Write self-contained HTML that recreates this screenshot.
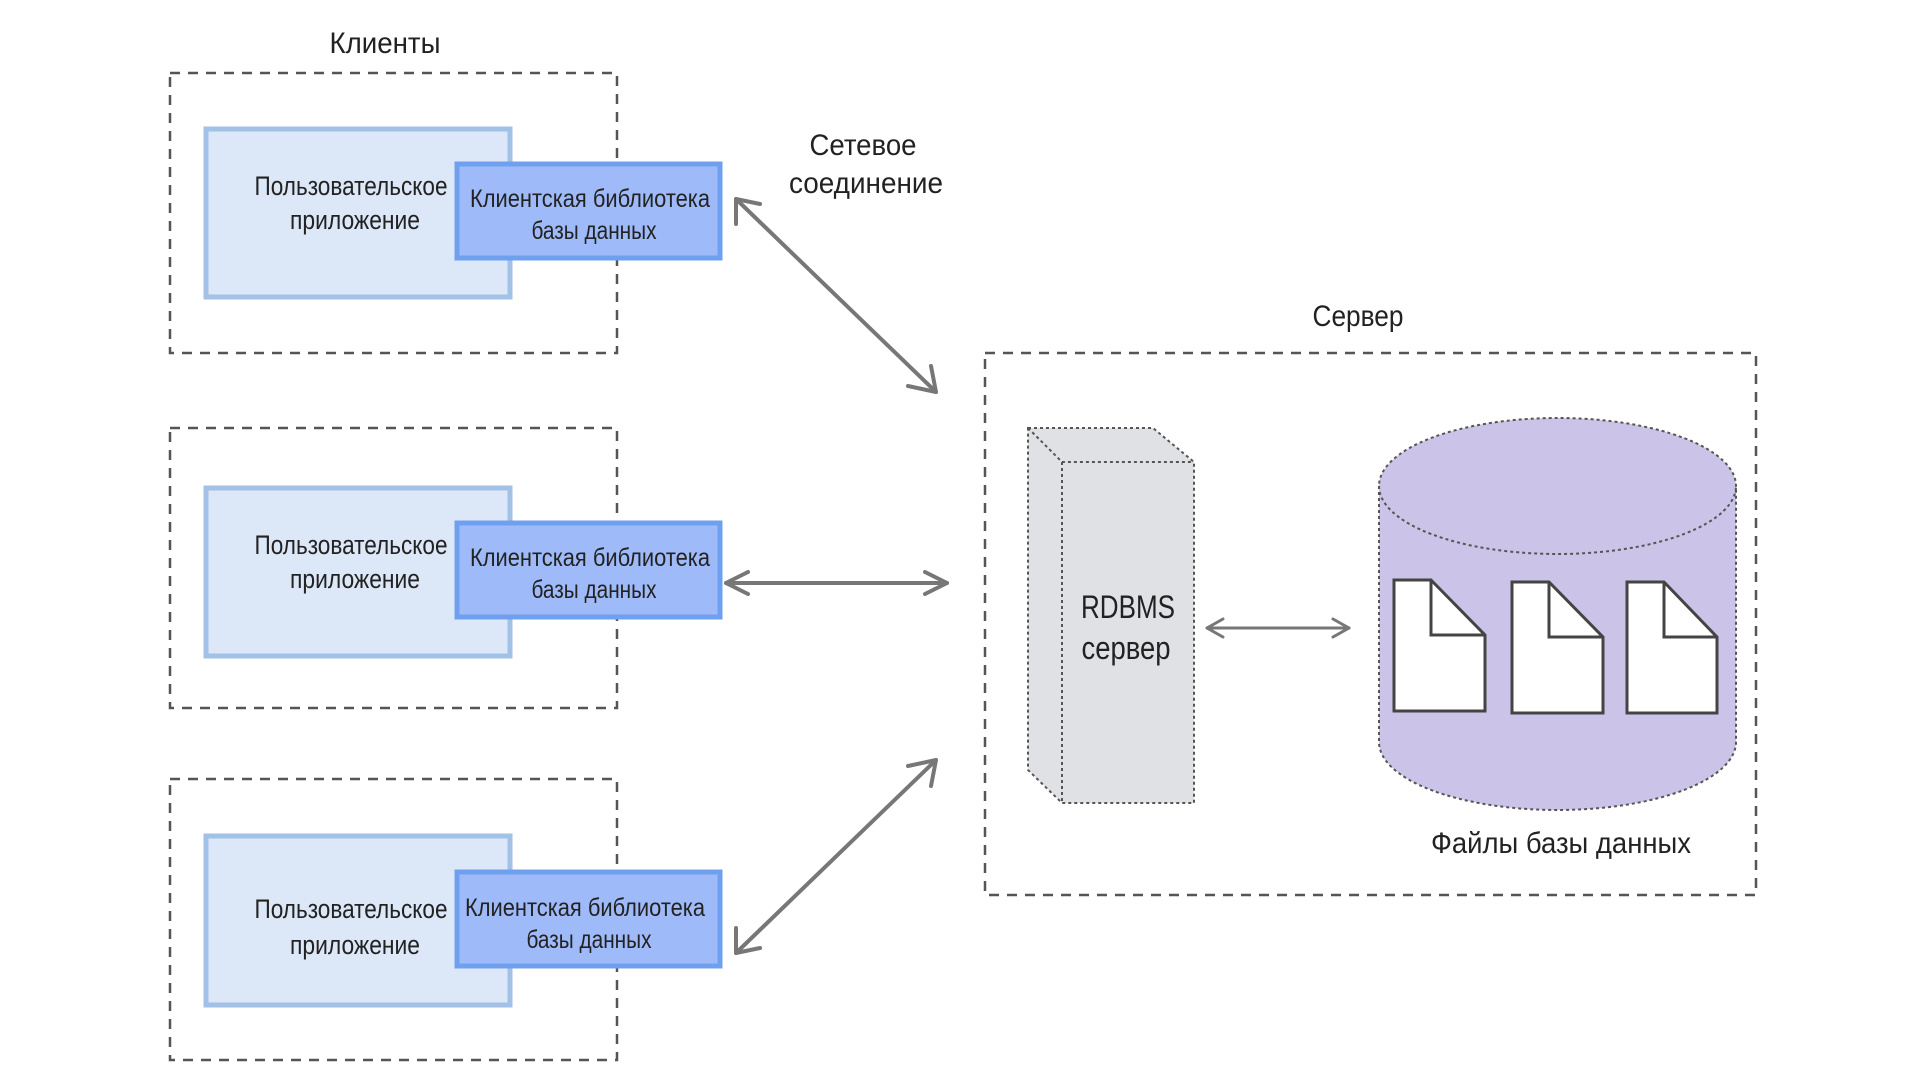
<!DOCTYPE html>
<html><head><meta charset="utf-8"><style>
html,body{margin:0;padding:0;background:#fff;}
svg{display:block}
text{font-family:"Liberation Sans",sans-serif;fill:#222;text-anchor:middle}
</style></head><body>
<svg width="1920" height="1080" viewBox="0 0 1920 1080" xmlns="http://www.w3.org/2000/svg">
<g fill="none" stroke="#555" stroke-width="2.5" stroke-dasharray="10,8">
<rect x="170" y="73" width="447" height="280"/>
<rect x="170" y="428" width="447" height="280"/>
<rect x="170" y="779" width="447" height="281"/>
</g>
<text x="385" y="53" font-size="30" textLength="111" lengthAdjust="spacingAndGlyphs">Клиенты</text>
<text x="863" y="155" font-size="30" textLength="107" lengthAdjust="spacingAndGlyphs">Сетевое</text>
<text x="866" y="193" font-size="30" textLength="154" lengthAdjust="spacingAndGlyphs">соединение</text>

<g id="c">
<rect x="206" y="129" width="304" height="168" fill="#dce8f8" stroke="#a2c1e6" stroke-width="5"/>
<rect x="457" y="164" width="263" height="94" fill="#9fbaf8" stroke="#6fa0f0" stroke-width="5"/>
<text x="351" y="195" font-size="27" textLength="193" lengthAdjust="spacingAndGlyphs">Пользовательское</text>
<text x="355" y="229" font-size="27" textLength="130" lengthAdjust="spacingAndGlyphs">приложение</text>
<text x="590" y="207" font-size="25" textLength="240" lengthAdjust="spacingAndGlyphs">Клиентская библиотека</text>
<text x="594" y="239" font-size="25" textLength="125" lengthAdjust="spacingAndGlyphs">базы данных</text>
</g>
<use href="#c" y="359"/>
<rect x="206" y="836" width="304" height="169" fill="#dce8f8" stroke="#a2c1e6" stroke-width="5"/>
<rect x="457" y="872" width="263" height="94" fill="#9fbaf8" stroke="#6fa0f0" stroke-width="5"/>
<text x="351" y="918" font-size="27" textLength="193" lengthAdjust="spacingAndGlyphs">Пользовательское</text>
<text x="355" y="954" font-size="27" textLength="130" lengthAdjust="spacingAndGlyphs">приложение</text>
<text x="585" y="916" font-size="25" textLength="240" lengthAdjust="spacingAndGlyphs">Клиентская библиотека</text>
<text x="589" y="948" font-size="25" textLength="125" lengthAdjust="spacingAndGlyphs">базы данных</text>

<g stroke="#777" stroke-width="4" fill="none" stroke-linecap="round" stroke-linejoin="round">
<line x1="736" y1="199" x2="936" y2="392"/>
<polyline points="736,224 736,199 760,204"/>
<polyline points="908,386 936,392 931,366"/>
<line x1="726" y1="583" x2="947" y2="583"/>
<polyline points="748,572 726,583 748,594"/>
<polyline points="925,572 947,583 925,594"/>
<line x1="736" y1="953" x2="936" y2="760"/>
<polyline points="736,928 736,953 760,948"/>
<polyline points="908,766 936,760 931,786"/>
</g>

<g transform="translate(-6,-3)">
<rect x="991" y="356" width="771" height="542" fill="none" stroke="#555" stroke-width="2.5" stroke-dasharray="10,8"/>
<text x="1364" y="329" font-size="30" textLength="91" lengthAdjust="spacingAndGlyphs">Сервер</text>
<g stroke="#777" fill="none" stroke-linecap="round" stroke-linejoin="round" stroke-width="3">
<line x1="1213" y1="631" x2="1355" y2="631"/>
<polyline points="1229,622 1213,631 1229,640"/>
<polyline points="1339,622 1355,631 1339,640"/>
</g>
<polygon points="1034,431 1159,431 1200,465 1200,806 1068,806 1034,773" fill="#e0e1e5" stroke="#555" stroke-width="2" stroke-dasharray="3,3"/>
<polyline points="1034,431 1068,465 1200,465" fill="none" stroke="#555" stroke-width="2" stroke-dasharray="3,3"/>
<line x1="1068" y1="465" x2="1068" y2="806" stroke="#555" stroke-width="2" stroke-dasharray="3,3"/>
<text x="1134" y="621" font-size="32" textLength="94" lengthAdjust="spacingAndGlyphs">RDBMS</text>
<text x="1132" y="662" font-size="32" textLength="89" lengthAdjust="spacingAndGlyphs">сервер</text>

<path d="M1385,489 L1385,745 A178.5,68 0 0 0 1742,745 L1742,489 A178.5,68 0 0 0 1385,489 Z" fill="#cbc4e8" stroke="#555" stroke-width="2" stroke-dasharray="3,3"/>
<path d="M1385,489 A178.5,68 0 0 0 1742,489" fill="none" stroke="#555" stroke-width="2" stroke-dasharray="3,3"/>
<g fill="#fff" stroke="#444" stroke-width="3">
<path d="M1400,583 L1437,583 L1491,638 L1491,714 L1400,714 Z"/>
<path d="M1437,583 L1437,638 L1491,638" fill="none"/>
<path d="M1518,585 L1555,585 L1609,640 L1609,716 L1518,716 Z"/>
<path d="M1555,585 L1555,640 L1609,640" fill="none"/>
<path d="M1633,585 L1670,585 L1723,640 L1723,716 L1633,716 Z"/>
<path d="M1670,585 L1670,640 L1723,640" fill="none"/>
</g>
<text x="1567" y="856" font-size="30" textLength="260" lengthAdjust="spacingAndGlyphs">Файлы базы данных</text>
</g>
</svg>
</body></html>
